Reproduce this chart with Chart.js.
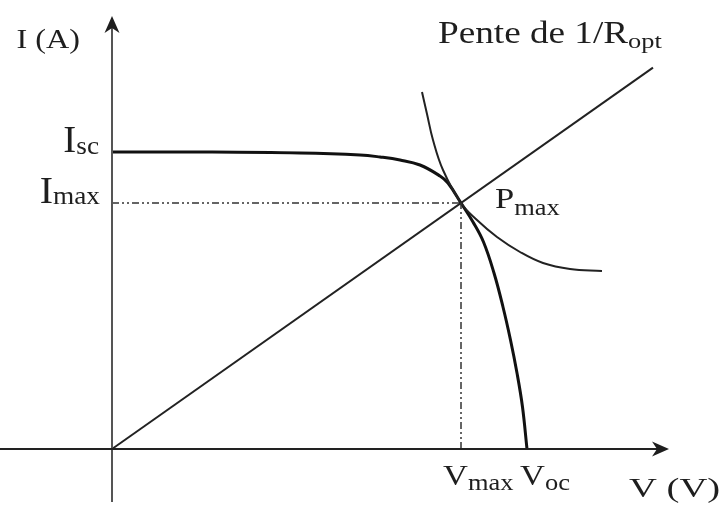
<!DOCTYPE html>
<html>
<head>
<meta charset="utf-8">
<script src="https://cdn.jsdelivr.net/npm/chart.js@4.4.0/dist/chart.umd.min.js"></script>
<style>
  html, body { margin: 0; padding: 0; background: #fff; }
  #wrap { width: 726px; height: 507px; }
</style>
</head>
<body>
<div id="wrap"><canvas id="iv"></canvas></div>
<script>
// I-V characteristic of a PV cell (arbitrary units)
const ivVoltage = [0, 8.8, 18.8, 24.8, 26.8, 28.8, 30.8, 32.8, 33.6, 34.9, 36.1, 37.15, 38.2, 39.1, 39.85, 40.5, 41.05, 41.5];
const ivCurrent = [29.7, 29.7, 29.6, 29.4, 29.2, 28.9, 28.4, 27.3, 26.6, 24.6, 22.7, 20.7, 17.6, 14.2, 10.9, 7.6, 4.2, 0];

// constant power curve touching the I-V curve at Pmax
const powVoltage = [31.0, 31.5, 32.1, 33.1, 34.9, 36.5, 38.5, 40.8, 43.1, 45.8, 49.0];
const powCurrent = [35.7, 33.5, 30.9, 27.9, 24.6, 22.9, 21.2, 19.7, 18.6, 18.0, 17.8];

// operating points
const Isc = 29.7, Imax = 24.6, Vmax = 34.9, Voc = 41.5;
const loadEndV = 54.1;

// axis extents
const xRange = [-11.2, 61.4], yRange = [-5.8, 44.9];
const xAxisEnd = 55.6, yAxisEnd = 43.2, yAxisStart = -5.3;

const pts = (xs, ys) => xs.map((v, i) => ({x: v, y: ys[i]}));
const serif = '"Liberation Serif", "DejaVu Serif", serif';
const ink = '#1e1e1e';

function arrowHead(ctx, x, y, ang) {
  ctx.save();
  ctx.translate(x, y);
  ctx.rotate(ang);
  ctx.beginPath();
  ctx.moveTo(0, 0);
  ctx.lineTo(-17, -7.5);
  ctx.lineTo(-12, 0);
  ctx.lineTo(-17, 7.5);
  ctx.closePath();
  ctx.fill();
  ctx.restore();
}

// text with optional subscript, stretched horizontally by sx
function label(ctx, x, y, main, size, sub, subSize, drop, align, sx = 1.15) {
  ctx.font = size + 'px ' + serif;
  const w1 = ctx.measureText(main).width;
  let w2 = 0;
  if (sub) {
    ctx.font = subSize + 'px ' + serif;
    w2 = ctx.measureText(sub).width;
  }
  const total = (w1 + w2) * sx;
  const left = align === 'right' ? x - total : x;
  ctx.save();
  ctx.translate(left, y);
  ctx.scale(sx, 1);
  ctx.font = size + 'px ' + serif;
  ctx.fillText(main, 0, 0);
  if (sub) {
    ctx.font = subSize + 'px ' + serif;
    ctx.fillText(sub, w1, drop);
  }
  ctx.restore();
}

const annotate = {
  id: 'annotate',
  afterDatasetsDraw(chart) {
    const {ctx, scales: {x, y}} = chart;
    const ox = x.getPixelForValue(0), oy = y.getPixelForValue(0);
    ctx.save();
    ctx.fillStyle = ink;
    arrowHead(ctx, x.getPixelForValue(xAxisEnd) + 1, oy, 0);
    arrowHead(ctx, ox, y.getPixelForValue(yAxisEnd) - 1, -Math.PI / 2);

    ctx.textBaseline = 'alphabetic';
    label(ctx, ox - 32, y.getPixelForValue(yAxisEnd) + 31, 'I (A)', 28, '', 0, 0, 'right');
    label(ctx, ox - 13, y.getPixelForValue(Isc), 'I', 37, 'sc', 26, 2, 'right', 1.05);
    label(ctx, ox - 12, y.getPixelForValue(Imax), 'I', 38, 'max', 26, 1, 'right', 1.05);
    label(ctx, x.getPixelForValue(Vmax) + 34, y.getPixelForValue(Imax) + 5, 'P', 30, 'max', 23, 7);
    label(ctx, x.getPixelForValue(Vmax) - 18, oy + 36, 'V', 30, 'max', 23, 5);
    label(ctx, x.getPixelForValue(Voc) - 7, oy + 36, 'V', 30, 'oc', 23, 5);
    label(ctx, x.getPixelForValue(xAxisEnd) - 39, oy + 48, 'V (V)', 28, '', 0, 0, 'left', 1.38);
    const endX = x.getPixelForValue(loadEndV);
    const endY = y.getPixelForValue(loadEndV * Imax / Vmax);
    label(ctx, endX - 215, endY - 25, 'Pente de 1/R', 31, 'opt', 22, 5, 'left', 1.2);
    ctx.restore();
  }
};

const thin = {showLine: true, pointRadius: 0, fill: false};

new Chart(document.getElementById('iv'), {
  type: 'scatter',
  data: {
    datasets: [
      // axes
      {...thin, data: [{x: xRange[0], y: 0}, {x: xAxisEnd - 1, y: 0}], borderColor: '#222', borderWidth: 2},
      {...thin, data: [{x: 0, y: yAxisStart}, {x: 0, y: yAxisEnd - 1}], borderColor: '#555', borderWidth: 2},
      // projections of Pmax onto the axes
      {...thin, data: [{x: 0, y: Imax}, {x: Vmax, y: Imax}], borderColor: '#333', borderWidth: 1.5, borderDash: [7, 3, 2, 3, 2, 3]},
      {...thin, data: [{x: Vmax, y: 0}, {x: Vmax, y: Imax}], borderColor: '#333', borderWidth: 1.5, borderDash: [7, 3, 2, 3, 2, 3]},
      // load line of slope 1/Ropt
      {...thin, data: [{x: 0, y: 0}, {x: loadEndV, y: loadEndV * Imax / Vmax}], borderColor: '#222', borderWidth: 2},
      // constant power curve
      {...thin, data: pts(powVoltage, powCurrent), borderColor: '#222', borderWidth: 2, tension: 0.4},
      // I-V curve
      {...thin, data: pts(ivVoltage, ivCurrent), borderColor: '#111', borderWidth: 3, tension: 0.4}
    ]
  },
  options: {
    responsive: true,
    maintainAspectRatio: false,
    animation: false,
    layout: {padding: 0},
    plugins: {legend: {display: false}, tooltip: {enabled: false}},
    scales: {
      x: {type: 'linear', min: xRange[0], max: xRange[1], display: false},
      y: {type: 'linear', min: yRange[0], max: yRange[1], display: false}
    }
  },
  plugins: [annotate]
});
</script>
</body>
</html>
